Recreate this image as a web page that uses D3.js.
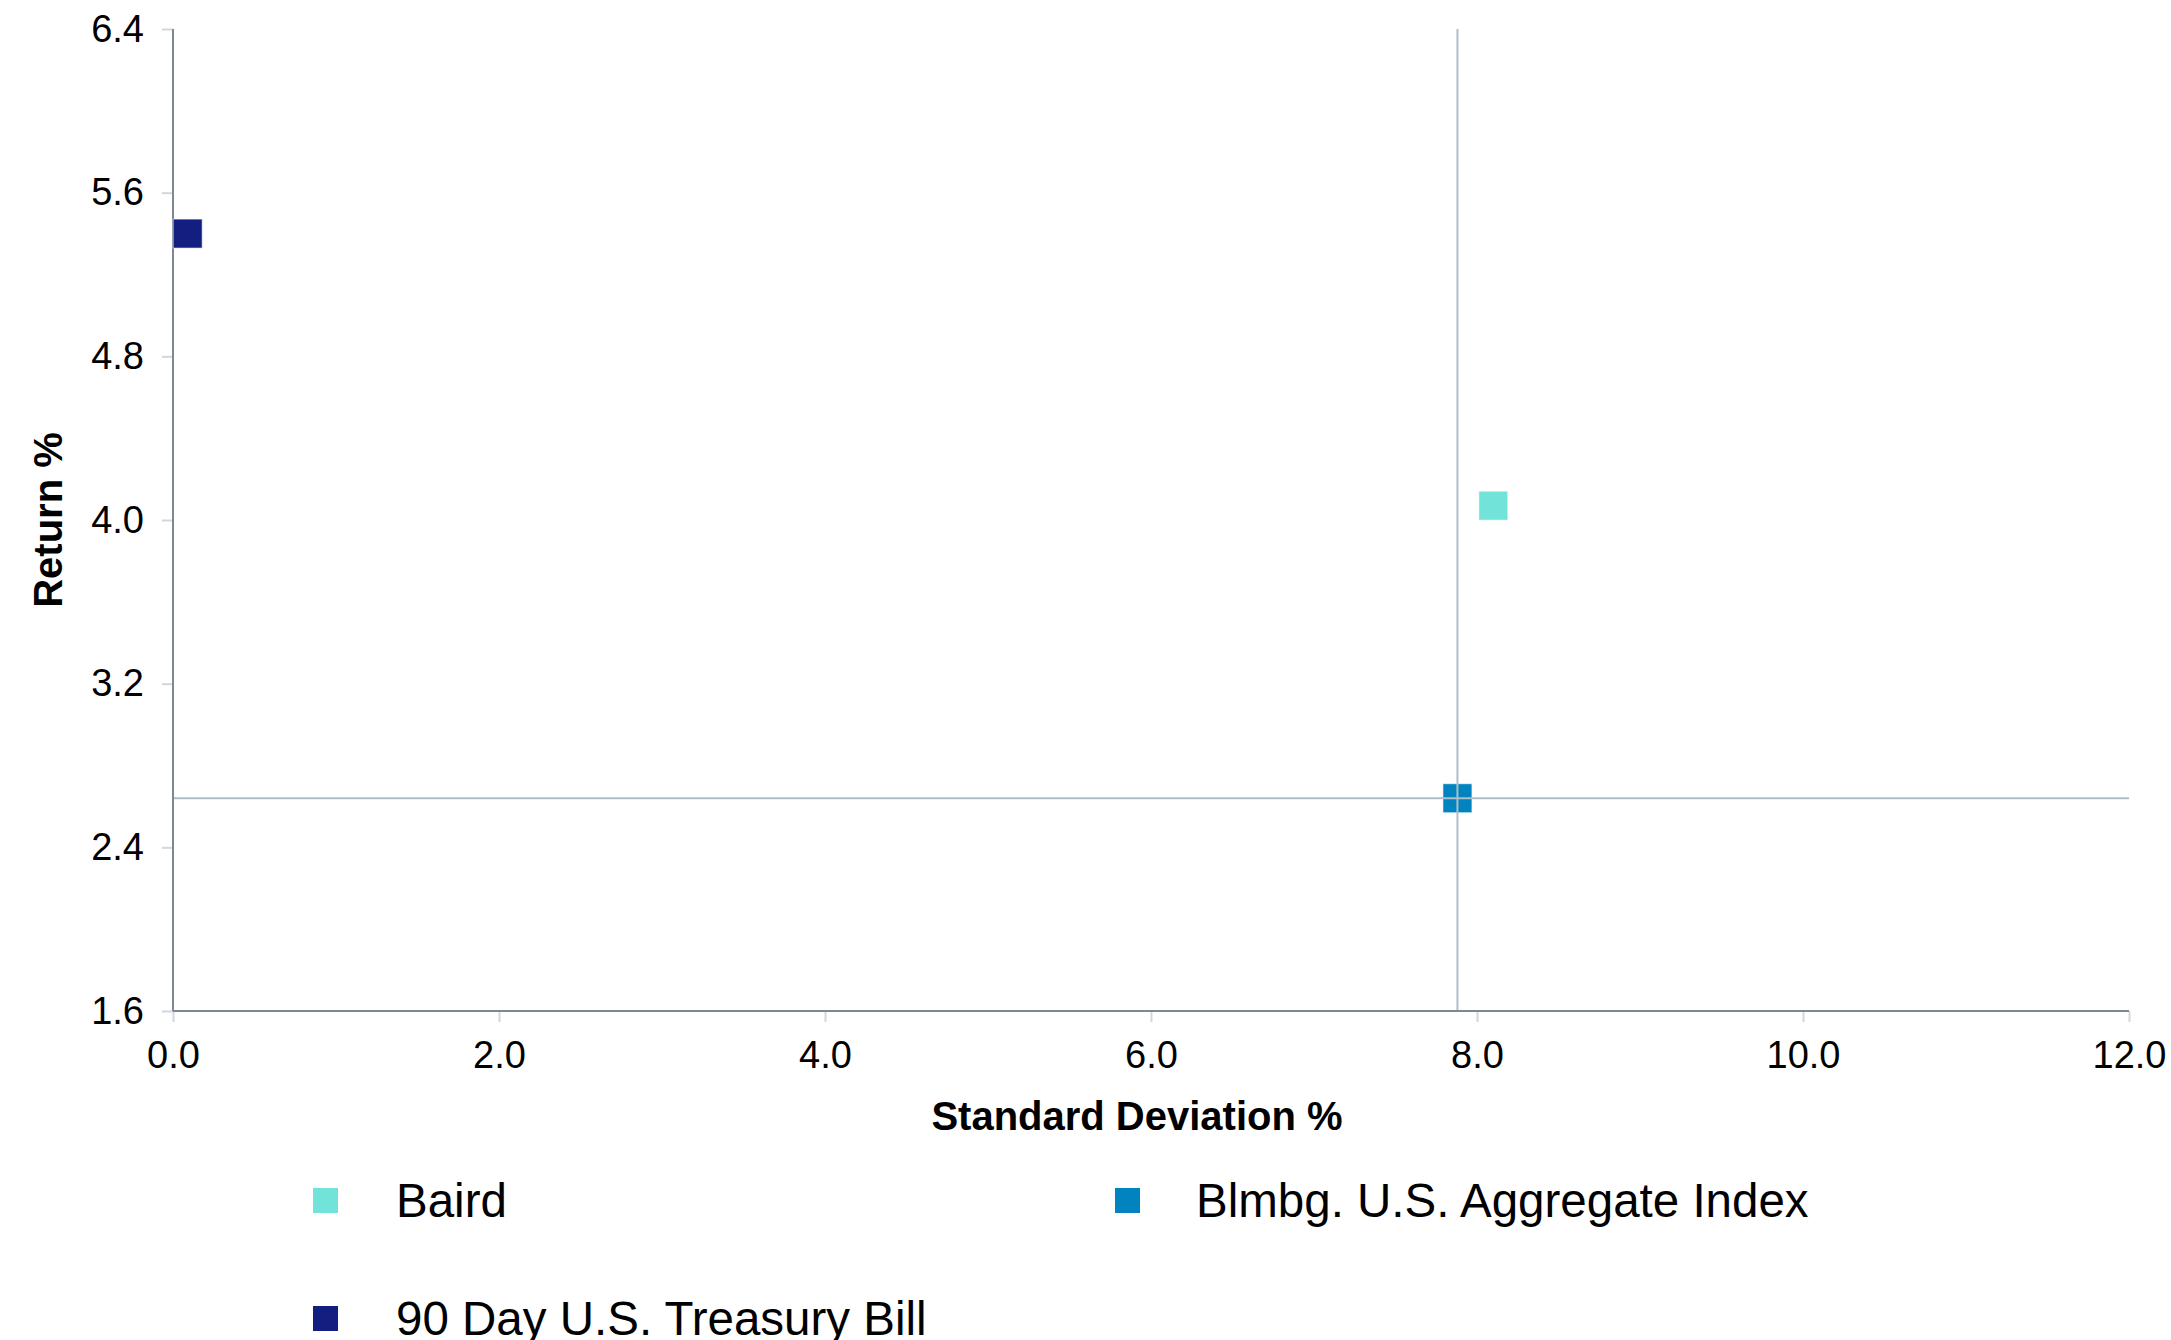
<!DOCTYPE html>
<html>
<head>
<meta charset="utf-8">
<script src="https://cdn.jsdelivr.net/npm/d3@7"></script>
<style>
  html, body { margin: 0; padding: 0; background: #fff; }
  svg { display: block; }
  text { font-family: "Liberation Sans", Arial, Helvetica, sans-serif; fill: #000; }
</style>
</head>
<body>
<svg id="chart" width="2171" height="1340"></svg>
<script>
// ---- Data ----
const seriesNames = ["Baird", "Blmbg. U.S. Aggregate Index", "90 Day U.S. Treasury Bill"];
const stdDevValues = [8.10, 7.88, 0.09];
const returnValues = [4.07, 2.64, 5.40];
const seriesColors = ["#72e3d8", "#0083bf", "#121f80"];
const benchmarkIndex = 1;
const xTickValues = [0, 2, 4, 6, 8, 10, 12];
const yTickValues = [1.6, 2.4, 3.2, 4.0, 4.8, 5.6, 6.4];
const xTitle = "Standard Deviation %";
const yTitle = "Return %";

// ---- Layout ----
const plot = { left: 173, right: 2129, top: 29, bottom: 1011 };
const svg = d3.select("#chart");

const x = d3.scaleLinear().domain([0, 12]).range([plot.left, plot.right]);
const y = d3.scaleLinear().domain([1.6, 6.4]).range([plot.bottom, plot.top]);

const fmt = d3.format(".1f");

// Axes (ticks + labels)
const gx = svg.append("g")
  .attr("transform", `translate(0,${plot.bottom})`)
  .call(d3.axisBottom(x).tickValues(xTickValues).tickFormat(fmt).tickSize(11).tickPadding(19));
const gy = svg.append("g")
  .attr("transform", `translate(${plot.left},0)`)
  .call(d3.axisLeft(y).tickValues(yTickValues).tickFormat(fmt).tickSize(11).tickPadding(18));

[gx, gy].forEach(g => {
  g.select(".domain").remove();
  g.selectAll(".tick line").attr("stroke", "#d4d6d8").attr("stroke-width", 2);
  g.selectAll(".tick text")
    .style("font-family", "'Liberation Sans', Arial, Helvetica, sans-serif")
    .style("font-size", "38px")
    .attr("fill", "#000");
});

// Axis lines
svg.append("line")
  .attr("x1", plot.left).attr("x2", plot.left)
  .attr("y1", plot.top).attr("y2", plot.bottom)
  .attr("stroke", "#7d8894").attr("stroke-width", 2);
svg.append("line")
  .attr("x1", plot.left).attr("x2", plot.right)
  .attr("y1", plot.bottom).attr("y2", plot.bottom)
  .attr("stroke", "#7d8894").attr("stroke-width", 2);

// Markers
const pts = seriesNames.map((n, i) => ({ name: n, sd: stdDevValues[i], ret: returnValues[i], color: seriesColors[i] }));
const mSize = 29;
svg.append("g").selectAll("rect")
  .data(pts)
  .join("rect")
  .attr("x", d => x(d.sd) - mSize / 2)
  .attr("y", d => y(d.ret) - mSize / 2)
  .attr("width", mSize).attr("height", mSize)
  .attr("fill", d => d.color)
  .attr("stroke", "rgba(255,255,255,0.6)")
  .attr("stroke-width", 1);

// Benchmark crosshair (drawn over markers)
const bm = pts[benchmarkIndex];
svg.append("line")
  .attr("x1", x(bm.sd)).attr("x2", x(bm.sd))
  .attr("y1", plot.top).attr("y2", plot.bottom - 1)
  .attr("stroke", "#adbfc6").attr("stroke-width", 2);
svg.append("line")
  .attr("x1", plot.left + 1).attr("x2", plot.right)
  .attr("y1", y(bm.ret)).attr("y2", y(bm.ret))
  .attr("stroke", "#adbfc6").attr("stroke-width", 2);

// Axis titles
svg.append("text")
  .attr("x", 1137).attr("y", 1130)
  .attr("text-anchor", "middle")
  .style("font-size", "40px").style("font-weight", "bold")
  .text(xTitle);
svg.append("text")
  .attr("transform", `translate(62,${(plot.top + plot.bottom) / 2}) rotate(-90)`)
  .attr("text-anchor", "middle")
  .style("font-size", "40px").style("font-weight", "bold")
  .text(yTitle);

// Legend
const legendPos = [
  { mx: 313, my: 1188, tx: 396, ty: 1217 },
  { mx: 1115, my: 1188, tx: 1196, ty: 1217 },
  { mx: 313, my: 1306, tx: 396, ty: 1335 }
];
const lg = svg.append("g").selectAll("g")
  .data(pts)
  .join("g");
lg.append("rect")
  .attr("x", (d, i) => legendPos[i].mx)
  .attr("y", (d, i) => legendPos[i].my)
  .attr("width", 25).attr("height", 25)
  .attr("fill", d => d.color);
lg.append("text")
  .attr("x", (d, i) => legendPos[i].tx)
  .attr("y", (d, i) => legendPos[i].ty)
  .style("font-size", "47.5px")
  .text(d => d.name);
</script>
</body>
</html>
